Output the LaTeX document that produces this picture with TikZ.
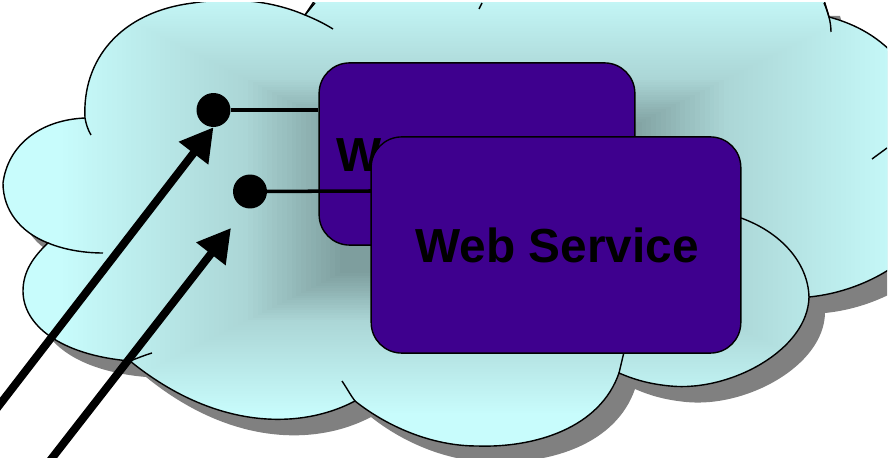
\documentclass[tikz,border=0pt]{standalone}
\usepackage{fontspec}
\setmainfont{Liberation Sans}
\usepackage{tikz}
\usetikzlibrary{arrows.meta,positioning}
\definecolor{cloudlight}{HTML}{C8FCFC}
\definecolor{cloudmid}{HTML}{ABD6D6}
\definecolor{clouddark}{HTML}{7E9E9E}
\definecolor{cloudshadow}{HTML}{808080}
\definecolor{wsfill}{HTML}{3E008E}
\def\cloudoutline{(85,118) .. controls (82,60) and (120,12) .. (193,3) .. controls (230,-3) and (270,0) .. (305,15)
  -- (315,0) -- (824,0) -- (829,17) .. controls (870,28) and (935,60) .. (940,190)
  .. controls (945,240) and (880,290) .. (809,297)
  .. controls (808,350) and (730,392) .. (670,386) .. controls (650,384) and (635,380) .. (619,373)
  .. controls (600,428) and (535,448) .. (477,446) .. controls (430,446) and (385,425) .. (355,401)
  .. controls (300,430) and (215,430) .. (130,361)
  .. controls (60,355) and (23,325) .. (23,291) .. controls (23,272) and (33,257) .. (48,243)
  .. controls (20,232) and (3,210) .. (3,183) .. controls (8,145) and (40,120) .. (85,118) -- cycle}

\begin{document}
\begin{tikzpicture}[x=0.03cm,y=-0.03cm,>={Triangle[length=28pt,width=30pt]},
  wservice/.style={draw=black,line width=1.2pt,fill=wsfill,rounded corners=26pt,
    font=\bfseries\fontsize{40.8}{48}\selectfont,text=black},
  port/.style={circle,fill=black,minimum size=29pt,inner sep=0pt},
  wire/.style={line width=3pt},
  stub/.style={line width=1.2pt},
  inflow/.style={->,line width=6.8pt}]

  \useasboundingbox (0,0) rectangle (888,458);

  \begin{scope}
    \clip (0,3) rectangle (887,458);
    \fill[cloudshadow,shift={(16,16)}] \cloudoutline;
    \begin{scope}
      \clip \cloudoutline;
      \fill[cloudlight] (0,0) rectangle (972,458);
      \foreach \t in {12,13,...,50} {
        \pgfmathsetmacro{\p}{100*(50-\t)/38}
        \fill[cloudlight!\p!cloudmid] ({4.86*\t},{200-245*(1-\t/100)}) rectangle ({972-4.86*\t},{200+245*(1-\t/100)});
      }
      \foreach \t in {51,52,...,70} {
        \pgfmathsetmacro{\p}{100*(70-\t)/20}
        \fill[cloudmid!\p!clouddark] ({4.86*\t},{200-245*(1-\t/100)}) rectangle ({972-4.86*\t},{200+245*(1-\t/100)});
      }
    \end{scope}
    \draw[stub] \cloudoutline;
    % inner ends of the lobes
    \draw[stub] (85,118) .. controls (86,124) and (88,130) .. (91,135);
    \draw[stub] (305,15) .. controls (315,19) and (325,24) .. (333,29);
    \draw[stub] (305,15) -- (315,3);
    \draw[stub] (479,9) -- (482,3);
    \draw[stub] (824,3) .. controls (828,12) and (831,22) .. (831,32);
    \draw[stub] (872,159) -- (887,148);
    \draw[stub] (741,218) .. controls (780,232) and (808,262) .. (809,297);
    \draw[stub] (619,373) -- (624,352);
    \draw[stub] (342,381) .. controls (348,390) and (351,396) .. (355,401);
    \draw[stub] (130,361) .. controls (138,358) and (145,355) .. (152,353);
    \draw[stub] (48,243) .. controls (65,250) and (85,253) .. (103,253);
  \end{scope}

  \node[wservice,minimum width=269.5pt,minimum height=155.5pt] (ws1) at (477,154) {\hspace{2pt}Web Service};
  \node[port] (p1) at (213.5,110) {};
  \node[port] (p2) at (250,191.5) {};
  \coordinate (w2) at (371,191);
  \draw[wire] (p1) -- (p1 -| ws1.west);
  \draw[wire] (p2) -- (w2);
  \node[wservice,minimum width=315.5pt,minimum height=184.5pt] (ws2) at (556,245) {\hspace{2pt}Web Service};

  \coordinate (in1) at (-16,425);
  \coordinate (in2) at (28,489);
  \coordinate (tip2) at (231,228);
  \draw[inflow] (in1) -- (p1.south);
  \draw[inflow] (in2) -- (tip2);

\end{tikzpicture}
\end{document}
